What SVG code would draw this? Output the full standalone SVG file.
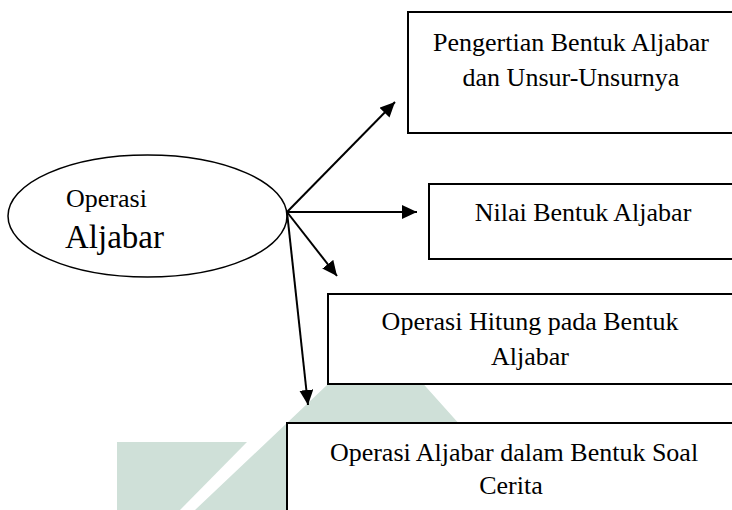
<svg xmlns="http://www.w3.org/2000/svg" width="732" height="510" viewBox="0 0 732 510">
<style>
.box{fill:#fff;stroke:#000;stroke-width:2}
.t{font-family:"Liberation Serif","Times New Roman",serif;font-size:26px;fill:#000;text-anchor:middle}
.c{stroke:#000;stroke-width:2;fill:none;marker-end:url(#ah)}
.wm{fill:#cfe0d8;stroke:none}
</style>
<defs>
<marker id="ah" markerUnits="userSpaceOnUse" markerWidth="16" markerHeight="16" refX="15" refY="7" orient="auto">
<path d="M0,0 L15,7 L0,14 z" fill="#000"/>
</marker>
</defs>
<rect width="732" height="510" fill="#fff"/>
<g id="watermark">
<polygon class="wm" points="117,442 247,442 180,510 117,510"/>
<polygon class="wm" points="333,378 418,378 470,436 470,510 195,510 327,385"/>
</g>
<g id="node-operasi">
<ellipse cx="147.5" cy="216" rx="139.5" ry="61" fill="#fff" stroke="#000" stroke-width="1.5"/>
<text class="t" x="66" y="207" style="text-anchor:start">Operasi</text>
<text class="t" x="65" y="248" style="text-anchor:start;font-size:33px">Aljabar</text>
</g>
<g id="node-pengertian">
<rect class="box" x="408" y="12" width="340" height="121"/>
<text class="t" x="571" y="51">Pengertian Bentuk Aljabar</text>
<text class="t" x="571" y="86">dan Unsur-Unsurnya</text>
</g>
<g id="node-nilai">
<rect class="box" x="429" y="184" width="320" height="75"/>
<text class="t" x="583" y="221">Nilai Bentuk Aljabar</text>
</g>
<g id="node-hitung">
<rect class="box" x="328" y="294" width="420" height="90"/>
<text class="t" x="530" y="330">Operasi Hitung pada Bentuk</text>
<text class="t" x="530" y="365">Aljabar</text>
</g>
<g id="node-soal">
<rect class="box" x="287" y="423" width="460" height="100"/>
<text class="t" x="514" y="461">Operasi Aljabar dalam Bentuk Soal</text>
<text class="t" x="511" y="494">Cerita</text>
</g>
<g id="connectors">
<line class="c" x1="287" y1="212" x2="395" y2="102"/>
<line class="c" x1="287" y1="212" x2="417" y2="212"/>
<line class="c" x1="287" y1="212" x2="337" y2="276"/>
<line class="c" x1="287" y1="212" x2="308" y2="405"/>
</g>
</svg>
